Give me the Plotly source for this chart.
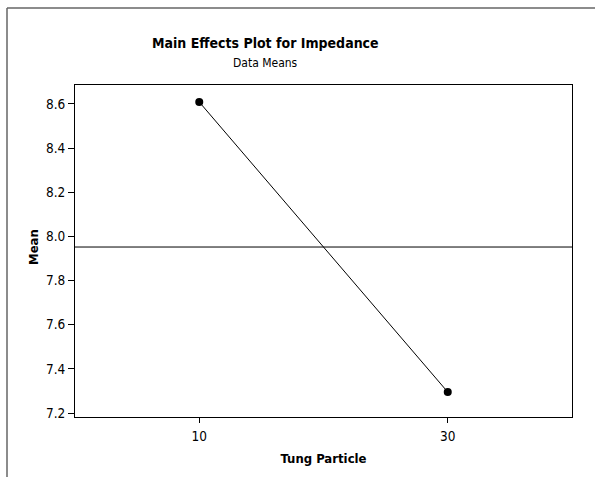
import plotly.graph_objects as go

levels = ["10", "30"]
means = [8.609, 7.295]
y_ticks = [7.2, 7.4, 7.6, 7.8, 8.0, 8.2, 8.4, 8.6]
grand_mean = sum(means) / len(means)

W, H = 595, 477
L, R, T, B = 75, 572, 85, 417
pw, ph = R - L, B - T

def px(x):
    return (x - L) / pw

def py(y):
    return (B - y) / ph

FONT = "DejaVu Sans Condensed"

fig = go.Figure()
fig.add_trace(go.Scatter(
    x=[0, 1], y=means, mode="lines+markers",
    line=dict(color="black", width=1),
    marker=dict(color="black", size=8),
    showlegend=False, hoverinfo="skip",
))

fig.update_layout(
    width=W, height=H,
    margin=dict(l=L, r=W - R, t=T, b=H - B),
    paper_bgcolor="white", plot_bgcolor="white",
    font=dict(family=FONT, color="black", size=13),
    xaxis=dict(
        range=[-0.5, 1.5], tickvals=[0, 1], ticktext=levels,
        showgrid=False, zeroline=False, showline=True, linecolor="black", linewidth=1,
        mirror=True, ticks="outside", ticklen=5, tickcolor="black",
        title=dict(text="<b>Tung Particle</b>", font=dict(size=13), standoff=10),
        tickfont=dict(size=13.5), ticklabelstandoff=2,
    ),
    yaxis=dict(
        range=[7.182, 8.686], tickvals=y_ticks, ticktext=[f"{v:.1f}" for v in y_ticks],
        showgrid=False, zeroline=False, showline=True, linecolor="black", linewidth=1,
        mirror=True, ticks="outside", ticklen=6, tickcolor="black",
        tickfont=dict(size=13.5),
    ),
    shapes=[
        dict(type="line", xref="paper", yref="y", x0=0, x1=1, y0=grand_mean, y1=grand_mean,
             line=dict(color="black", width=1)),
        dict(type="line", xref="paper", yref="paper", x0=px(7), x1=px(7), y0=py(8), y1=py(477),
             line=dict(color="#666666", width=1.5)),
        dict(type="line", xref="paper", yref="paper", x0=px(7), x1=px(595), y0=py(8), y1=py(8),
             line=dict(color="#666666", width=1.5)),
    ],
    annotations=[
        dict(text="<b>Main Effects Plot for Impedance</b>", xref="paper", yref="paper",
             x=px(265), y=py(43), showarrow=False, font=dict(size=14, family=FONT),
             xanchor="center", yanchor="middle"),
        dict(text="Data Means", xref="paper", yref="paper",
             x=px(265), y=py(63), showarrow=False, font=dict(size=12, family=FONT),
             xanchor="center", yanchor="middle"),
        dict(text="<b>Mean</b>", xref="paper", yref="paper", textangle=-90,
             x=px(33), y=py(247), showarrow=False, font=dict(size=13, family=FONT),
             xanchor="center", yanchor="middle"),
    ],
)

fig.write_html("out.html")
